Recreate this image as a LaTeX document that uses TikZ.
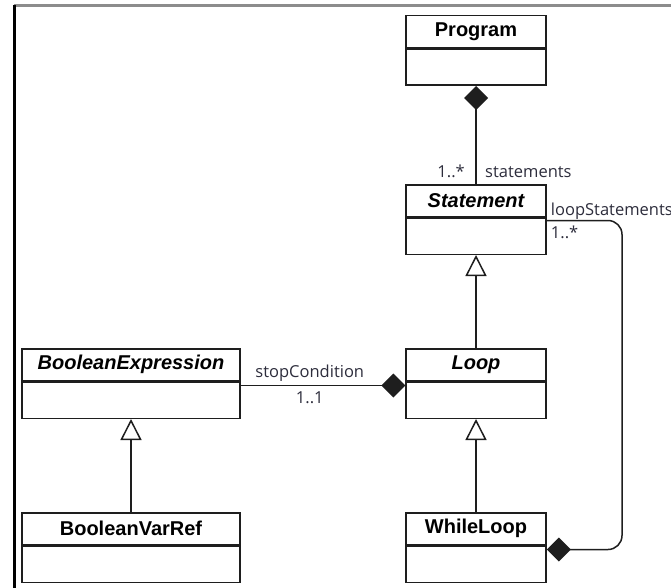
\documentclass[tikz,border=0pt]{standalone}
\usepackage{fontspec}
\setsansfont{Liberation Sans}
\newfontfamily\lblfont{Open Sans}
\usepackage{xcolor}
\usetikzlibrary{arrows.meta,positioning}
\definecolor{trait}{RGB}{30,30,30}
\definecolor{texte}{RGB}{45,45,60}

\tikzset{
  classhead/.style={draw=trait, line width=1.5pt, anchor=north, minimum height=32pt, inner sep=0pt, font=\sffamily\bfseries\fontsize{20}{24}\selectfont},
  classbody/.style={draw=trait, line width=1.5pt, anchor=north, minimum height=36pt, inner sep=0pt},
  lbl/.style={font=\lblfont\fontsize{16.5}{20}\selectfont, text=texte, inner sep=0pt},
  herit/.style={draw=trait, line width=1.5pt, -{Triangle[open, length=21pt, width=21pt, fill=white]}},
  compo/.style={draw=trait, line width=1.5pt, -{Diamond[length=24pt, width=24pt]}},
}

\begin{document}
\begin{tikzpicture}[x=1pt, y=-1pt]
\useasboundingbox (0,0) rectangle (671,588);
% frame of the screenshot
\draw[black!45, line width=3pt] (14,6) -- (671,6);
\draw[black, line width=3pt] (14.5,5) -- (14.5,588);

\foreach \id/\cx/\cy/\w/\txt in {
  prog/476/15/140pt/Program,
  stmt/476/184/140pt/{\itshape Statement},
  loop/476/348/140pt/{\itshape Loop},
  wloop/476/512/140pt/WhileLoop,
  bexp/131/348/218pt/{\itshape BooleanExpression},
  bref/131/512/218pt/BooleanVarRef} {
  \node[classhead, minimum width=\w] (\id) at (\cx,\cy) {\txt};
  \node[classbody, minimum width=\w] (\id-b) at (\id.south) {};
}

% inheritance
\draw[herit] (loop.north) -- (stmt-b.south);
\draw[herit] (wloop.north) -- (loop-b.south);
\draw[herit] (bref.north) -- (bexp-b.south);

% compositions
\draw[compo] (stmt.north) -- (prog-b.south);
\node[lbl, anchor=base east] (m-stmt) at ([xshift=-11pt, yshift=6pt]stmt.north) {1..*};
\node[lbl, anchor=base west] (r-stmt) at ([xshift=9pt, yshift=6pt]stmt.north) {statements};

\draw[compo] ([yshift=-4pt]bexp-b.north east) -- ([yshift=-4pt]loop-b.north west);
\node[lbl, anchor=base] (r-stop) at ([xshift=69pt, yshift=4pt]bexp-b.north east) {stopCondition};
\node[lbl, anchor=base] (m-stop) at ([xshift=69pt, yshift=-22pt]bexp-b.north east) {1..1};

\coordinate (ls-a) at ([yshift=-3pt]stmt-b.north east);
\coordinate (ls-b) at ([yshift=-4pt]wloop-b.north east);
\coordinate (coin) at (622,0);
\draw[compo, rounded corners=14pt] (ls-a) -| (coin |- ls-b) -- (ls-b);
\node[lbl, anchor=base west] (r-loop) at ([xshift=4pt, yshift=2pt]stmt.south east) {loopStatements};
\node[lbl, anchor=base west] (m-loop) at ([xshift=4pt, yshift=-21pt]stmt.south east) {1..*};
\end{tikzpicture}
\end{document}
